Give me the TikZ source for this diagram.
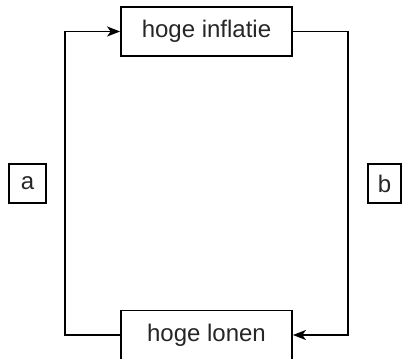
\documentclass[tikz,border=0pt]{standalone}
\usepackage{fontspec}
\setmainfont{Liberation Sans}
\usetikzlibrary{arrows.meta}
\begin{document}
\begin{tikzpicture}[x=1pt,y=-1pt,
  box/.style={draw=black,line width=1.8pt,inner sep=0pt,font=\fontsize{24}{27}\selectfont,text=black!85},
  conn/.style={draw=black,line width=1.8pt},
  tip/.style={-{Stealth[length=13pt,width=10pt,inset=3.5pt]}}]
\useasboundingbox (0,0) rectangle (403,358);
\node[box,minimum width=171pt,minimum height=49pt] (ti) at (206.5,31.5) {hoge inflatie};
\node[box,minimum width=171pt,minimum height=49pt] (bl) at (206.5,335) {hoge lonen};
\node[box,minimum width=37pt,minimum height=39pt] (a) at (27.5,183.5) {a};
\node[box,minimum width=33pt,minimum height=39pt] (b) at (384.5,183.5) {b};
\coordinate (lc) at (65,335);
\coordinate (rc) at (348,31.5);
\draw[conn,tip] (bl.west) -- (lc) |- (ti.west);
\draw[conn,tip] (ti.east) -- (rc) |- (bl.east);
\end{tikzpicture}
\end{document}
